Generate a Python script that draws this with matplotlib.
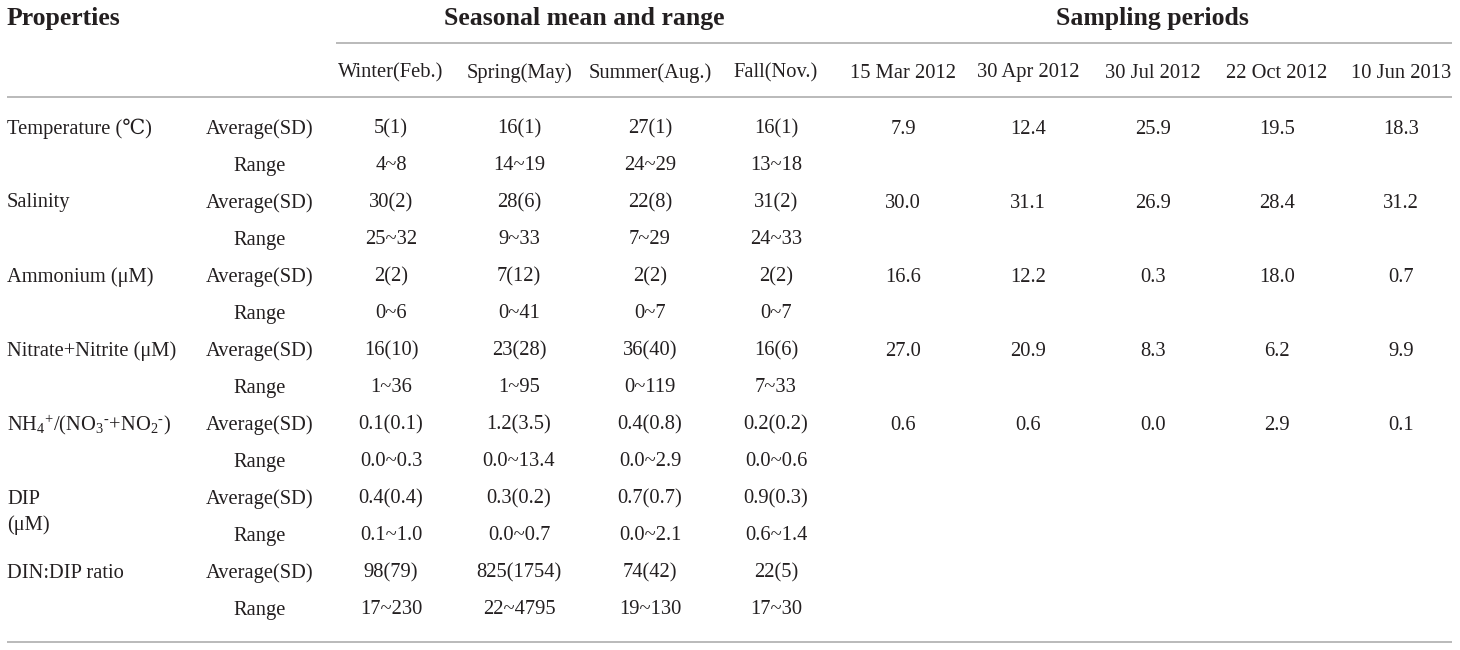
import matplotlib
matplotlib.use("Agg")
import matplotlib.pyplot as plt

plt.rcParams["font.family"] = ["Liberation Serif", "DejaVu Serif"]
plt.rcParams["mathtext.fontset"] = "custom"
plt.rcParams["mathtext.rm"] = "Liberation Serif"
plt.rcParams["mathtext.it"] = "Liberation Serif:italic"

# ---- table content ----
properties = [
    "Temperature (\u2103)",
    "Salinity",
    "Ammonium (\u03bcM)",
    "Nitrate+Nitrite (\u03bcM)",
    r"NH$_4$$^{+}$/(NO$_3$$^{\text{-}}$+NO$_2$$^{\text{-}}$)",
    "DIP",
    "DIN:DIP ratio",
]
stat_labels = ["Average(SD)", "Range"]
season_cols = ["Winter(Feb.)", "Spring(May)", "Summer(Aug.)", "Fall(Nov.)"]
sampling_cols = ["15 Mar 2012", "30 Apr 2012", "30 Jul 2012", "22 Oct 2012", "10 Jun 2013"]

season_avg = [
    ["5(1)", "16(1)", "27(1)", "16(1)"],
    ["30(2)", "28(6)", "22(8)", "31(2)"],
    ["2(2)", "7(12)", "2(2)", "2(2)"],
    ["16(10)", "23(28)", "36(40)", "16(6)"],
    ["0.1(0.1)", "1.2(3.5)", "0.4(0.8)", "0.2(0.2)"],
    ["0.4(0.4)", "0.3(0.2)", "0.7(0.7)", "0.9(0.3)"],
    ["98(79)", "825(1754)", "74(42)", "22(5)"],
]
season_range = [
    ["4~8", "14~19", "24~29", "13~18"],
    ["25~32", "9~33", "7~29", "24~33"],
    ["0~6", "0~41", "0~7", "0~7"],
    ["1~36", "1~95", "0~119", "7~33"],
    ["0.0~0.3", "0.0~13.4", "0.0~2.9", "0.0~0.6"],
    ["0.1~1.0", "0.0~0.7", "0.0~2.1", "0.6~1.4"],
    ["17~230", "22~4795", "19~130", "17~30"],
]
sampling_vals = [
    ["7.9", "12.4", "25.9", "19.5", "18.3"],
    ["30.0", "31.1", "26.9", "28.4", "31.2"],
    ["16.6", "12.2", "0.3", "18.0", "0.7"],
    ["27.0", "20.9", "8.3", "6.2", "9.9"],
    ["0.6", "0.6", "0.0", "2.9", "0.1"],
    [],
    [],
]

# ---- layout (pixels) ----
W, H = 1460, 650
TXT = "#231f20"
RULE = "#b4b4b4"
FS = 14.8
FS_HEAD = 18.5
x_prop = 7
x_stat = 260
x_season = [391, 519, 650, 776]
x_sampling = [903, 1028, 1153, 1277, 1401]
y_first = 129
dy = 37

fig = plt.figure(figsize=(W / 100, H / 100), dpi=100)
ax = fig.add_axes([0, 0, 1, 1])
ax.set_xlim(0, W)
ax.set_ylim(H, 0)
ax.axis("off")

# header
ax.text(x_prop, 19, "Properties", fontsize=FS_HEAD, fontweight="bold",
        color=TXT, ha="left", va="center")
ax.text(sum(x_season) / len(x_season), 19, "Seasonal mean and range",
        fontsize=FS_HEAD, fontweight="bold", color=TXT, ha="center", va="center")
ax.text(sum(x_sampling) / len(x_sampling), 19, "Sampling periods",
        fontsize=FS_HEAD, fontweight="bold", color=TXT, ha="center", va="center")
for x, lab in zip(x_season + x_sampling, season_cols + sampling_cols):
    ax.text(x, 73, lab, fontsize=FS, color=TXT, ha="center", va="center")

ax.plot([336, 1452], [43, 43], color=RULE, lw=1.3, solid_capstyle="butt")
ax.plot([7, 1452], [97, 97], color=RULE, lw=1.3, solid_capstyle="butt")
ax.plot([7, 1452], [642, 642], color=RULE, lw=1.3, solid_capstyle="butt")

# body
for i, prop in enumerate(properties):
    y_avg = y_first + dy * 2 * i
    y_rng = y_avg + dy
    ax.text(x_prop, y_avg, prop, fontsize=FS, color=TXT, ha="left", va="center")
    if prop == "DIP":
        ax.text(x_prop, y_avg + 26, "(\u03bcM)", fontsize=FS, color=TXT,
                ha="left", va="center")
    ax.text(x_stat, y_avg, stat_labels[0], fontsize=FS, color=TXT, ha="center", va="center")
    ax.text(x_stat, y_rng, stat_labels[1], fontsize=FS, color=TXT, ha="center", va="center")
    for x, v in zip(x_season, season_avg[i]):
        ax.text(x, y_avg, v, fontsize=FS, color=TXT, ha="center", va="center")
    for x, v in zip(x_season, season_range[i]):
        ax.text(x, y_rng, v, fontsize=FS, color=TXT, ha="center", va="center")
    for x, v in zip(x_sampling, sampling_vals[i]):
        ax.text(x, y_avg, v, fontsize=FS, color=TXT, ha="center", va="center")

fig.savefig("out.png", dpi=100, facecolor="white")
